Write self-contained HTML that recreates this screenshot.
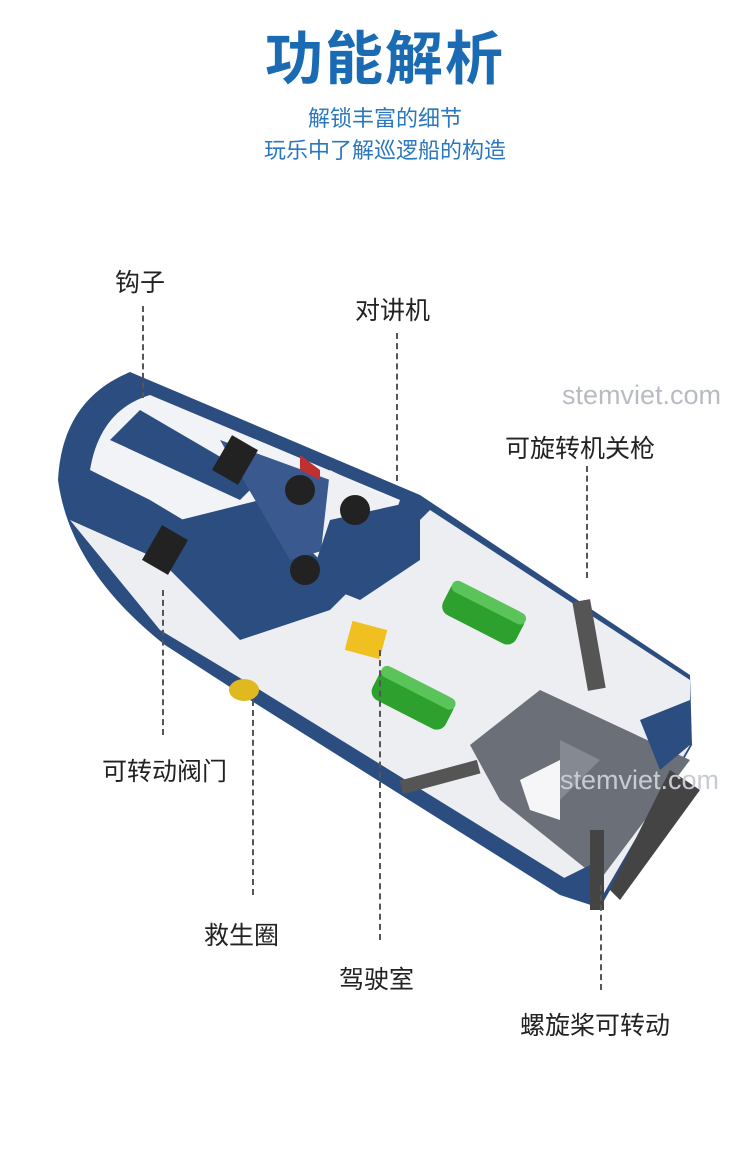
<!DOCTYPE html>
<html><head><meta charset="utf-8"><style>
body{margin:0;width:750px;height:1161px;background:#fff;position:relative;overflow:hidden;font-family:"Liberation Sans","Noto Sans CJK SC",sans-serif}
.t{position:absolute;white-space:nowrap}
.lab{font-size:25px;color:#222}
.dl{position:absolute;border-left:2px dashed #555;width:0}
</style></head><body>
<div class="t" style="left:10px;width:750px;text-align:center;top:12px;font-size:58px;font-weight:bold;color:#1a6bb4;letter-spacing:2px">功能解析</div>
<div class="t" style="left:0;width:770px;text-align:center;top:101px;font-size:22px;color:#2a77c0">解锁丰富的细节</div>
<div class="t" style="left:0;width:770px;text-align:center;top:133px;font-size:22px;color:#2a77c0">玩乐中了解巡逻船的构造</div>

<svg style="position:absolute;left:0;top:0" width="750" height="1161">
<path d="M58,480 Q62,400 130,372 L420,495 L690,675 L692,745 L600,908 L560,895 L250,700 L165,645 Q70,570 58,480Z" fill="#2c4d80"/>
<path d="M90,470 Q100,410 150,395 L400,500 L380,560 L250,560 L150,500Z" fill="#f2f3f6"/>
<path d="M110,440 L140,410 L260,480 L240,500Z" fill="#2c4d80"/>
<path d="M70,520 L160,560 L240,640 L330,610 L430,510 L690,680 L690,745 L600,900 L260,690 L160,630Z" fill="#eceef2"/>
<path d="M180,520 L260,500 L320,560 L250,610 Z" fill="#2c4d80"/>
<path d="M220,440 L330,480 L360,540 L290,560Z" fill="#3a5a8f"/>
<path d="M330,470 L390,500 L380,560 L320,560Z" fill="#eef0f4"/>
<path d="M330,520 L420,500 L420,560 L360,600 L310,580Z" fill="#2c4d80"/>
<path d="M470,745 L540,690 L690,760 L660,800 L600,880 L500,800Z" fill="#6b7078"/>
<path d="M560,740 L600,760 L560,800Z" fill="#858a92"/>
<path d="M520,780 L560,760 L560,820 L530,810Z" fill="#f6f6f8"/>
<path d="M640,720 L690,700 L690,745 L660,770Z" fill="#2c4d80"/>
<path d="M560,880 L600,860 L600,905Z" fill="#2c4d80"/>
<g transform="rotate(27 483 612)"><rect x="443" y="595" width="82" height="36" rx="10" fill="#2ea02e"/><rect x="443" y="595" width="82" height="12" rx="6" fill="#5ac45a"/></g>
<g transform="rotate(27 412 698)"><rect x="372" y="680" width="82" height="36" rx="10" fill="#2ea02e"/><rect x="372" y="680" width="82" height="12" rx="6" fill="#5ac45a"/></g>
<rect x="348" y="625" width="36" height="30" fill="#f0c020" transform="rotate(15 366 640)"/>
<ellipse cx="244" cy="690" rx="15" ry="11" fill="#e0b820"/>
<circle cx="300" cy="490" r="15" fill="#222"/><circle cx="355" cy="510" r="15" fill="#222"/><circle cx="305" cy="570" r="15" fill="#222"/>
<rect x="220" y="440" width="30" height="40" fill="#222" transform="rotate(30 235 460)"/>
<rect x="150" y="530" width="30" height="40" fill="#222" transform="rotate(30 165 550)"/>
<path d="M300,455 L320,470 L320,480 L300,470Z" fill="#c03030"/>
<rect x="580" y="600" width="18" height="90" fill="#555" transform="rotate(-10 589 645)"/>
<rect x="400" y="770" width="80" height="14" fill="#555" transform="rotate(-15 440 777)"/>
<rect x="590" y="830" width="14" height="80" fill="#444"/>
<path d="M670,770 L700,790 L620,900 L610,890Z" fill="#444"/>
</svg>

<div class="t lab" style="left:115px;top:263px">钩子</div>
<div class="dl" style="left:142px;top:306px;height:92px"></div>
<div class="t lab" style="left:355px;top:291px">对讲机</div>
<div class="dl" style="left:396px;top:333px;height:148px"></div>
<div class="t lab" style="left:505px;top:429px">可旋转机关枪</div>
<div class="dl" style="left:586px;top:466px;height:112px"></div>
<div class="t lab" style="left:102px;top:752px">可转动阀门</div>
<div class="dl" style="left:162px;top:590px;height:145px"></div>
<div class="t lab" style="left:204px;top:916px">救生圈</div>
<div class="dl" style="left:252px;top:700px;height:195px"></div>
<div class="t lab" style="left:339px;top:960px">驾驶室</div>
<div class="dl" style="left:379px;top:650px;height:290px"></div>
<div class="t lab" style="left:520px;top:1006px">螺旋桨可转动</div>
<div class="dl" style="left:600px;top:885px;height:105px"></div>

<div class="t" style="left:562px;top:380px;font-size:27px;color:#b8bcc2">stemviet.com</div>
<div class="t" style="left:560px;top:765px;font-size:27px;color:#c8ccd2">stemviet.com</div>
</body></html>
